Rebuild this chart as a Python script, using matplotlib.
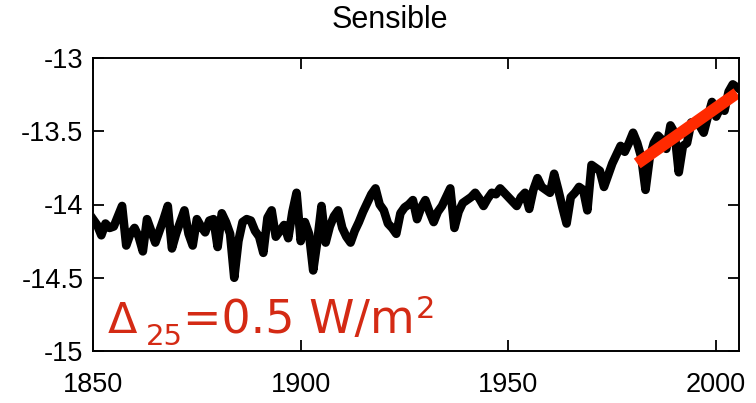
import numpy as np
import matplotlib
matplotlib.use("Agg")
import matplotlib.pyplot as plt

# annual sensible heat flux (W/m2)
years = list(range(1850, 2006))
flux = [
    -14.10, -14.14, -14.21, -14.13, -14.16, -14.15, -14.08, -14.01, -14.28, -14.20,  # 1850s
    -14.16, -14.22, -14.32, -14.10, -14.18, -14.26, -14.18, -14.10, -14.01, -14.30,  # 1860s
    -14.20, -14.12, -14.04, -14.20, -14.28, -14.10, -14.15, -14.19, -14.11, -14.10,  # 1870s
    -14.29, -14.06, -14.12, -14.20, -14.50, -14.25, -14.12, -14.10, -14.11, -14.18,  # 1880s
    -14.22, -14.33, -14.09, -14.04, -14.22, -14.18, -14.14, -14.23, -14.05, -13.92,  # 1890s
    -14.25, -14.12, -14.20, -14.45, -14.25, -14.01, -14.26, -14.15, -14.08, -14.04,  # 1900s
    -14.16, -14.22, -14.26, -14.18, -14.12, -14.05, -13.99, -13.93, -13.89, -14.00,  # 1910s
    -14.04, -14.13, -14.16, -14.20, -14.06, -14.02, -14.00, -13.97, -14.10, -14.02,  # 1920s
    -13.97, -14.05, -14.12, -14.05, -14.01, -13.95, -13.89, -14.16, -14.05, -13.99,  # 1930s
    -13.97, -13.95, -13.92, -13.96, -14.01, -13.96, -13.92, -13.93, -13.89, -13.92,  # 1940s
    -13.95, -13.98, -14.01, -13.95, -13.92, -14.03, -13.90, -13.82, -13.88, -13.90,  # 1950s
    -13.92, -13.79, -13.90, -14.02, -14.13, -13.95, -13.92, -13.88, -13.90, -14.04,  # 1960s
    -13.73, -13.75, -13.77, -13.88, -13.80, -13.72, -13.66, -13.60, -13.64, -13.58,  # 1970s
    -13.51, -13.58, -13.68, -13.90, -13.68, -13.58, -13.53, -13.56, -13.62, -13.46,  # 1980s
    -13.51, -13.78, -13.60, -13.58, -13.44, -13.45, -13.46, -13.51, -13.40, -13.30,  # 1990s
    -13.40, -13.34, -13.36, -13.23, -13.18, -13.20,                                  # 2000s
]

# linear trend over the last 25 years
trend_years = [1981, 2005]
trend_vals = [-13.72, -13.24]

xticks = [1850, 1900, 1950, 2000]
yticks = [-15, -14.5, -14, -13.5, -13]
ytick_labels = ["-15", "-14.5", "-14", "-13.5", "-13"]

plt.rcParams["font.family"] = ["Liberation Sans", "DejaVu Sans"]

fig = plt.figure(figsize=(7.56, 4.03), dpi=100)
ax = fig.add_axes([93 / 756, 1 - 351 / 403, (739 - 93) / 756, (351 - 58) / 403])

ax.plot(years, flux, color="black", lw=6.2, solid_joinstyle="round")
ax.plot(trend_years, trend_vals, color="#ff2a00", lw=8.5, solid_capstyle="butt")

ax.set_xlim(1850, 2005.5)
ax.set_ylim(-15, -13)
ax.set_xticks(xticks)
ax.set_yticks(yticks)
ax.set_yticklabels(ytick_labels)
ax.tick_params(direction="in", length=8, width=1.3, labelsize=19.5,
               top=True, right=True)
ax.tick_params(axis="x", pad=15)
ax.tick_params(axis="y", pad=7)
for s in ax.spines.values():
    s.set_linewidth(1.4)

fig.text(390 / 756, 1 - 20 / 403, "Sensible", ha="center", va="center", fontsize=22)

# delta annotation, drawn piece by piece
red = "#d42a14"
afont = ["DejaVu Sans"]
fig.canvas.draw()
r = fig.canvas.get_renderer()
x0 = 108
base = 403 - 333
t = fig.text(x0 / 756, base / 403, "Δ", color=red, fontsize=31, family=afont, va="baseline")
x = t.get_window_extent(r).x1 + 8
t = fig.text(x / 756, (base - 12) / 403, "25", color=red, fontsize=21, family=afont, va="baseline")
x = t.get_window_extent(r).x1 + 1
t = fig.text(x / 756, base / 403, "=0.5 W/m", color=red, fontsize=33, family=afont, va="baseline")
x = t.get_window_extent(r).x1 + 1
fig.text(x / 756, (base + 15) / 403, "2", color=red, fontsize=22, family=afont, va="baseline")

fig.savefig("out.png", dpi=100)
